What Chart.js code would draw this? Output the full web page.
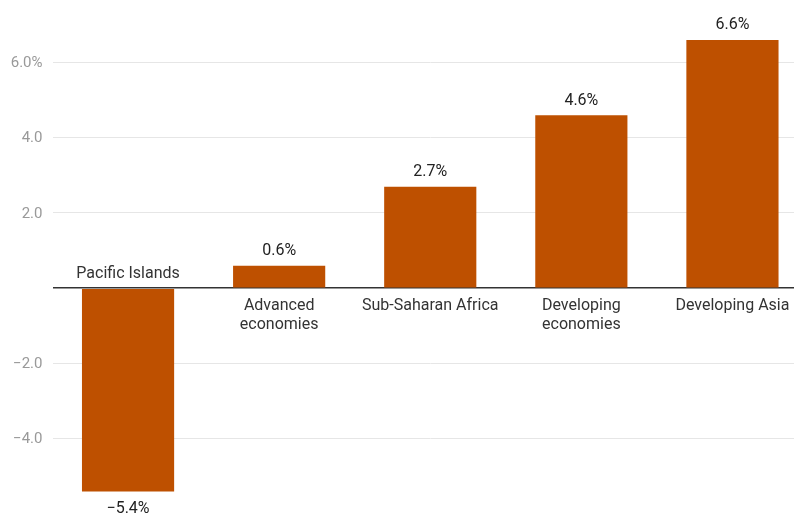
<!DOCTYPE html>
<html>
<head>
<meta charset="utf-8">
<script src="https://cdn.jsdelivr.net/npm/chart.js"></script>
<style>
  html, body { margin: 0; padding: 0; background: #fff; overflow: hidden; }
  #wrap { width: 794px; height: 514px; overflow: hidden; }
  canvas { display: block; }
</style>
</head>
<body>
<div id="wrap">
  <canvas id="growthChart" width="808" height="514"></canvas>
</div>
<script>
  // data
  const categories = [
    ['Pacific Islands'],
    ['Advanced', 'economies'],
    ['Sub-Saharan Africa'],
    ['Developing', 'economies'],
    ['Developing Asia']
  ];
  const growth = [-5.4, 0.6, 2.7, 4.6, 6.6];
  const tickValues = [-4, -2, 2, 4, 6];

  const barColor = '#be5000';
  const labelFont = "16px Roboto, 'Noto Sans', sans-serif";
  const tickFont = "15px Roboto, 'Noto Sans', sans-serif";

  function fmt(v) {
    return (v < 0 ? '\u2212' : '') + Math.abs(v).toFixed(1);
  }

  // value labels, category labels on the zero line, y tick labels
  const labelPlugin = {
    id: 'barLabels',
    afterDatasetsDraw(chart) {
      const ctx = chart.ctx;
      const y = chart.scales.y;
      const zero = y.getPixelForValue(0);
      const meta = chart.getDatasetMeta(0);
      ctx.save();
      ctx.textBaseline = 'middle';

      // y tick labels
      ctx.font = tickFont;
      ctx.textAlign = 'right';
      ctx.fillStyle = '#999';
      tickValues.forEach(v => {
        ctx.fillText(fmt(v) + (v === 6 ? '%' : ''), y.right - 10, y.getPixelForValue(v) + 1);
      });

      ctx.font = labelFont;
      ctx.textAlign = 'center';
      meta.data.forEach((bar, i) => {
        const v = growth[i];
        ctx.fillStyle = '#222';
        if (v >= 0) {
          ctx.fillText(fmt(v) + '%', bar.x, bar.y - 14.5);
          ctx.fillStyle = '#333';
          categories[i].forEach((line, k) => ctx.fillText(line, bar.x, zero + 17.5 + k * 19));
        } else {
          ctx.fillText(fmt(v) + '%', bar.x, bar.y + 17.5);
          ctx.fillStyle = '#333';
          const lines = categories[i];
          lines.forEach((line, k) => ctx.fillText(line, bar.x, zero - 14.5 - (lines.length - 1 - k) * 19));
        }
      });
      ctx.restore();
    }
  };

  new Chart(document.getElementById('growthChart'), {
    type: 'bar',
    data: {
      labels: categories.map(c => c.join(' ')),
      datasets: [{
        data: growth,
        backgroundColor: barColor,
        borderWidth: 0,
        categoryPercentage: 1,
        barPercentage: 0.61
      }]
    },
    options: {
      responsive: false,
      animation: false,
      layout: { padding: 0 },
      plugins: { legend: { display: false }, tooltip: { enabled: false } },
      scales: {
        x: { display: false },
        y: {
          min: -6,
          max: 7.66,
          afterFit(scale) { scale.width = 52.5; },
          border: { display: false },
          grid: {
            drawTicks: false,
            color(c) {
              const v = c.tick.value;
              if (v === 0) return '#333';
              return tickValues.includes(v) ? '#e6e6e6' : 'rgba(0,0,0,0)';
            },
            lineWidth(c) { return c.tick.value === 0 ? 1.5 : 1; }
          },
          ticks: { stepSize: 2, display: false }
        }
      }
    },
    plugins: [labelPlugin]
  });
</script>
</body>
</html>
